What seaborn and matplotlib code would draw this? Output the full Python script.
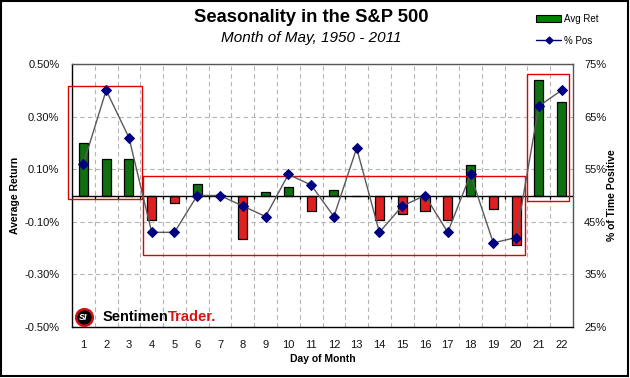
import numpy as np
import pandas as pd
import matplotlib
matplotlib.use("Agg")
import matplotlib.pyplot as plt
import seaborn as sns
from matplotlib.patches import Rectangle, Patch
from matplotlib.lines import Line2D
from matplotlib.ticker import FuncFormatter

# ---- data ----
days = [str(d) for d in range(1, 23)]
avg_ret = [0.20, 0.14, 0.14, -0.095, -0.03, 0.043, 0.003, -0.167, 0.012, 0.032, -0.06,
           0.02, -0.003, -0.094, -0.071, -0.06, -0.094, 0.115, -0.052, -0.19, 0.438, 0.354]
pct_pos = [56, 70, 61, 43, 43, 50, 50, 48, 46, 54, 52, 46, 59, 43, 48, 50, 43, 54, 41, 42, 67, 70]
left_ticks = [-0.5, -0.3, -0.1, 0.1, 0.3, 0.5]
right_ticks = [25, 35, 45, 55, 65, 75]
# highlight boxes in data coords: (x0, x1, low return, high return)
boxes = [(-0.66, 2.58, -0.013, 0.415), (2.63, 19.38, -0.227, 0.075), (19.47, 21.31, -0.021, 0.461)]

GREEN = "#008000"
RED = "#ff0000"
NAVY = "#000080"

sns.set_theme(style="white")
plt.rcParams["font.family"] = ["Liberation Sans", "DejaVu Sans"]
plt.rcParams["text.color"] = "black"
plt.rcParams["axes.labelcolor"] = "black"

df = pd.DataFrame({"day": days, "ret": avg_ret, "pos": pct_pos})
df["sign"] = np.where(df["ret"] >= 0, "up", "down")
df["idx"] = np.arange(len(days))

fig = plt.figure(figsize=(6.3, 3.78), dpi=100)
ax = fig.add_axes([72 / 630, 1 - 327 / 378, 501 / 630, 263 / 378])

# grid
ax.set_xticks(np.arange(len(days)) - 0.5, minor=True)
ax.grid(which="minor", axis="x", color="#b4b4b4", linestyle=(0, (4, 3)), linewidth=0.8)
ax.grid(which="major", axis="y", color="#b4b4b4", linestyle=(0, (4, 3)), linewidth=0.8)
ax.set_axisbelow(True)

sns.barplot(data=df, x="day", y="ret", hue="sign", palette={"up": GREEN, "down": RED},
            dodge=False, width=0.4, edgecolor="black", linewidth=0.9, legend=False, ax=ax,
            zorder=3)

ax.set_xlim(-0.5, len(days) - 0.5)
ax.set_ylim(-0.5, 0.5)
ax.set_yticks(left_ticks)
ax.yaxis.set_major_formatter(FuncFormatter(lambda v, p: f"{v:.2f}%"))
ax.axhline(0, color="black", linewidth=1.0, zorder=4)
ax.vlines(np.arange(1, len(days)) - 0.5, -0.012, 0, color="black", linewidth=0.9, zorder=4)

# highlight boxes
for x0, x1, lo, hi in boxes:
    ax.add_patch(Rectangle((x0, lo), x1 - x0, hi - lo, fill=False, edgecolor="#e00000",
                           linewidth=1.0, zorder=5, clip_on=False))

ax.tick_params(axis="x", which="both", length=0, pad=9, labelsize=8, labelcolor="#111111")
ax.tick_params(axis="y", which="both", length=0, pad=9, labelsize=8, labelcolor="#111111")
ax.set_xlabel("Day of Month", fontsize=7.5, fontweight="bold")
ax.set_ylabel("Average Return", fontsize=7.5, fontweight="bold")
ax.xaxis.set_label_coords(0.5, -0.122)
ax.xaxis.label.set_va("center")
ax.yaxis.set_label_coords(-0.114, 0.5)
ax.yaxis.label.set_va("center")

for s in ["left", "bottom"]:
    ax.spines[s].set_color("black")
    ax.spines[s].set_linewidth(1.0)
for s in ["top", "right"]:
    ax.spines[s].set_color("#555555")
    ax.spines[s].set_linewidth(1.0)

# right axis: % positive
ax2 = ax.twinx()
sns.lineplot(data=df, x="idx", y="pos", ax=ax2, color="#5a5a5a", linewidth=1.0,
             marker="D", markersize=4.6, markerfacecolor=NAVY, markeredgecolor=NAVY, zorder=6)
ax2.set_ylim(25, 75)
ax2.set_yticks(right_ticks)
ax2.yaxis.set_major_formatter(FuncFormatter(lambda v, p: f"{v:.0f}%"))
ax2.tick_params(axis="y", length=0, pad=8, labelsize=8, labelcolor="#111111")
ax2.set_ylabel("% of Time Positive", fontsize=7.5, fontweight="bold", rotation=90)
ax2.yaxis.set_label_coords(1.078, 0.5)
ax2.yaxis.label.set_va("center")
ax2.set_xlabel("")
ax2.set_xlim(-0.5, len(days) - 0.5)
ax2.grid(False)
for s in ax2.spines.values():
    s.set_visible(False)

# titles
fig.text(311 / 630, 1 - 18 / 378, "Seasonality in the S&P 500", ha="center", va="center",
         fontsize=13.2, fontweight="bold", color="black")
fig.text(311 / 630, 1 - 38 / 378, "Month of May, 1950 - 2011", ha="center", va="center",
         fontsize=11, style="italic", color="black")

# legend
handles = [Patch(facecolor=GREEN, edgecolor="black", linewidth=0.8),
           Line2D([0], [0], color=NAVY, linewidth=1.0, marker="D", markersize=3.5)]
fig.legend(handles, ["Avg Ret", "% Pos"], loc="upper left", bbox_to_anchor=(532 / 630, 1 - 10 / 378),
           frameon=False, fontsize=7, handlelength=2.6, handleheight=0.6, labelspacing=1.2,
           handletextpad=0.25, borderaxespad=0)

# logo
ax.plot([0.023], [0.038], marker="o", markersize=12, markerfacecolor="black",
        markeredgecolor="#d01010", markeredgewidth=1.8, transform=ax.transAxes,
        clip_on=False, zorder=7)
ax.text(0.023, 0.036, "SI", transform=ax.transAxes, ha="center", va="center", fontsize=6.5,
        fontweight="bold", style="italic", color="white", zorder=8)
t1 = ax.text(0.061, 0.038, "Sentimen", transform=ax.transAxes, ha="left", va="center",
             fontsize=10.5, fontweight="bold", color="black", zorder=8)
ax.annotate("Trader.", xy=(1, 0.5), xycoords=t1, ha="left", va="center", fontsize=10.5,
            fontweight="bold", color="#dd1111", zorder=8)

fig.add_artist(Rectangle((0.002, 0.004), 0.995, 0.993, transform=fig.transFigure, fill=False,
                         edgecolor="black", linewidth=1.5))

fig.savefig("out.png", dpi=100, facecolor="white")
